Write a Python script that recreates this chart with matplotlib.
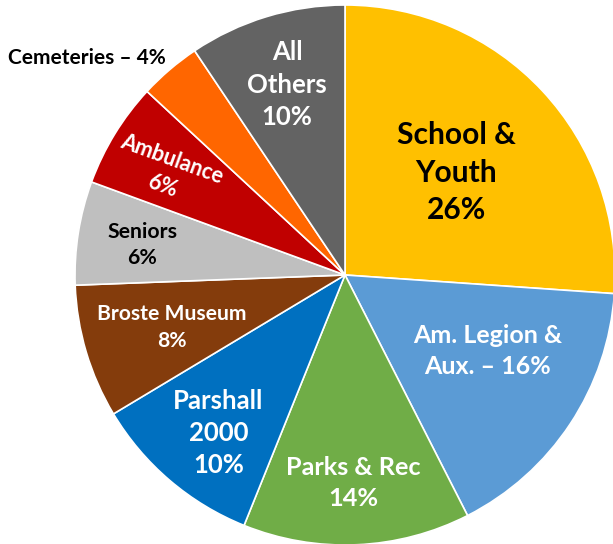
import numpy as np
import matplotlib.pyplot as plt

# budget shares, clockwise from 12 o'clock
names = ['School &\nYouth', 'Am. Legion &\nAux. \u2013 16%', 'Parks & Rec', 'Parshall\n2000',
         'Broste Museum', 'Seniors', 'Ambulance', 'Cemeteries \u2013 4%', 'All\nOthers']
# wedge sizes as drawn (read from the slice boundaries)
shares = [26.1, 16.4, 13.6, 10.3, 8.0, 6.2, 6.3, 3.7, 9.4]
# percentages printed on the labels
label_pct = [26, 16, 14, 10, 8, 6, 6, 4, 10]
show_pct = [True, False, True, True, True, True, True, False, True]

colors = ['#FFC000', '#5B9BD5', '#70AD47', '#0070C0', '#843C0C',
          '#BFBFBF', '#C00000', '#FF6600', '#636363']
txt_col = ['black', 'white', 'white', 'white', 'white', 'black', 'white', 'black', 'white']
fsize = [21.6, 18, 18.2, 18.5, 15.2, 15.3, 15.5, 15, 18.5]
# label placement: radius (fraction of pie radius) and angle nudge in degrees
lab_r = [0.56, 0.60, 0.77, 0.75, 0.67, 0.76, 0.76, 1.25, 0.737]
lab_da = [-0.4, 5.4, -0.3, 1.8, 0.4, 0.6, 1.5, 9.5, 0]
lab_rot = [0, 0, 0, 0, 0, 0, -20, 0, 0]

plt.rcParams['font.family'] = ['Lato', 'DejaVu Sans']

fig = plt.figure(figsize=(6.13, 5.44), dpi=100)
ax = fig.add_axes([0, 0, 1, 1])
wedges, _ = ax.pie(shares, colors=colors, startangle=90, counterclock=False,
                   wedgeprops=dict(edgecolor='white', linewidth=1.2))

# pie centre at pixel (345, 275), radius 270 px
R = 270.0
ax.set_xlim(-345 / R, (613 - 345) / R)
ax.set_ylim(-(544 - 275) / R, 275 / R)
ax.set_aspect('auto')
ax.axis('off')

for i, w in enumerate(wedges):
    mid = (w.theta1 + w.theta2) / 2 + lab_da[i]
    x = lab_r[i] * np.cos(np.radians(mid))
    y = lab_r[i] * np.sin(np.radians(mid))
    s = names[i]
    if show_pct[i]:
        s = s + '\n%d%%' % label_pct[i]
    ax.text(x, y, s, ha='center', va='center', multialignment='center',
            color=txt_col[i], fontsize=fsize[i], fontweight='bold',
            rotation=lab_rot[i], rotation_mode='anchor', linespacing=1.42)

fig.savefig('out.png', dpi=100)
